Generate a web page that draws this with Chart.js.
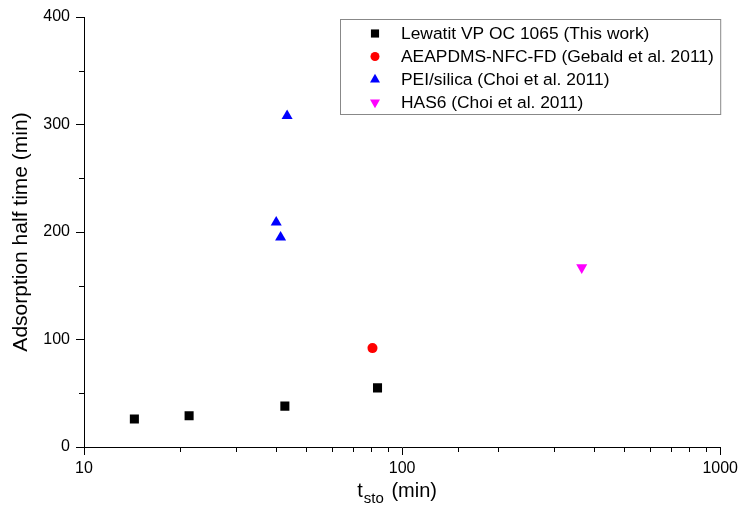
<!DOCTYPE html>
<html>
<head>
<meta charset="utf-8">
<script src="https://cdn.jsdelivr.net/npm/chart.js@4/dist/chart.umd.min.js"></script>
<style>
  html, body { margin: 0; padding: 0; background: #fff; }
  #wrap { width: 742px; height: 506px; }
</style>
</head>
<body>
<div id="wrap"><canvas id="halfTimeChart" width="742" height="506"></canvas></div>
<script>
const FONT = "Arial, 'Liberation Sans', sans-serif";

// storage time t_sto (min) vs adsorption half time (min)
const lewatitX = [14.4, 21.4, 42.8, 83.7];
const lewatitY = [26, 29, 38, 55];
const aeapdmsX = [80.7];
const aeapdmsY = [92];
const peiX = [43.5, 40.2, 41.5];
const peiY = [308, 209, 195];
const has6X = [367];
const has6Y = [167];

const seriesLabels = [
    'Lewatit VP OC 1065 (This work)',
    'AEAPDMS-NFC-FD (Gebald et al. 2011)',
    'PEI/silica (Choi et al. 2011)',
    'HAS6 (Choi et al. 2011)'
];
const xTickLabels = [10, 100, 1000];
const yTickLabels = [0, 100, 200, 300, 400];
const yMinorTicks = [50, 150, 250, 350];

const toPoints = function(xs, ys) {
    let pts = [];
    for (let i = 0; i < xs.length; i++) pts.push({x: xs[i], y: ys[i]});
    return pts;
};

const datasets = [
    { label: seriesLabels[0], data: toPoints(lewatitX, lewatitY), pointStyle: 'rect', pointRadius: 6.4, backgroundColor: '#000000', borderColor: '#000000' },
    { label: seriesLabels[1], data: toPoints(aeapdmsX, aeapdmsY), pointStyle: 'circle', pointRadius: 5, backgroundColor: '#ff0000', borderColor: '#ff0000' },
    { label: seriesLabels[2], data: toPoints(peiX, peiY), pointStyle: 'triangle', pointRadius: 6.4, backgroundColor: '#0000ff', borderColor: '#0000ff' },
    { label: seriesLabels[3], data: toPoints(has6X, has6Y), pointStyle: 'triangle', rotation: 180, pointRadius: 6.4, backgroundColor: '#ff00ff', borderColor: '#ff00ff' }
];
datasets.forEach(function(d) { d.pointBorderWidth = 0; d.pointHoverRadius = d.pointRadius; });

// short minor ticks + subscript x title + boxed legend
const decorPlugin = {
    id: 'decor',
    afterDraw: function(chart) {
        const ctx = chart.ctx;
        const xs = chart.scales.x, ys = chart.scales.y;
        const area = chart.chartArea;
        ctx.save();
        ctx.strokeStyle = '#000';
        ctx.lineWidth = 1;
        ctx.beginPath();
        xs.ticks.forEach(function(t) {
            if (xTickLabels.indexOf(t.value) >= 0) return;
            const px = Math.round(xs.getPixelForValue(t.value)) + 0.5;
            ctx.moveTo(px, area.bottom);
            ctx.lineTo(px, area.bottom + 5);
        });
        yMinorTicks.forEach(function(v) {
            const py = Math.round(ys.getPixelForValue(v)) + 0.5;
            ctx.moveTo(area.left, py);
            ctx.lineTo(area.left - 5, py);
        });
        ctx.stroke();

        // x title: t_sto (min)
        const big = '20px ' + FONT, small = '15px ' + FONT;
        ctx.fillStyle = '#000';
        ctx.textBaseline = 'alphabetic';
        ctx.textAlign = 'left';
        ctx.font = big;
        const wT = ctx.measureText('t').width;
        const wRest = ctx.measureText(' (min)').width;
        ctx.font = small;
        const wSub = ctx.measureText('sto').width + 3;
        let x0 = (area.left + area.right) / 2 - (wT + wSub + wRest) / 2 - 5;
        const base = 497;
        ctx.font = big;
        ctx.fillText('t', x0, base);
        ctx.font = small;
        ctx.fillText('sto', x0 + wT + 1, base + 6);
        ctx.font = big;
        ctx.fillText(' (min)', x0 + wT + wSub, base);

        // legend box
        const boxL = 340.5, boxT = 19.5, boxR = area.right + 0.5, rowH = 23;
        const n = chart.data.datasets.length;
        ctx.strokeStyle = '#888';
        ctx.strokeRect(boxL, boxT, boxR - boxL, 14 + rowH * (n - 1) + 12);
        ctx.font = '17.4px ' + FONT;
        ctx.textBaseline = 'middle';
        chart.data.datasets.forEach(function(d, i) {
            const cy = boxT + 14 + i * rowH;
            ctx.fillStyle = d.backgroundColor;
            if (Chart.helpers && Chart.helpers.drawPoint) {
                Chart.helpers.drawPoint(ctx, {pointStyle: d.pointStyle, rotation: d.rotation || 0, radius: d.pointRadius * 0.9, borderWidth: 0}, 375, cy);
            }
            ctx.fillStyle = '#000';
            ctx.fillText(d.label, 401, cy + 1);
        });
        ctx.restore();
    }
};

const ctxChart = document.getElementById('halfTimeChart');
window.chartObject = new Chart(ctxChart, {
    type: 'scatter',
    data: { datasets: datasets },
    options: {
        responsive: false,
        animation: false,
        devicePixelRatio: 1,
        layout: { padding: { top: 17, right: 20, left: 0, bottom: 0 } },
        plugins: {
            legend: { display: false },
            tooltip: { enabled: false }
        },
        scales: {
            x: {
                type: 'logarithmic',
                min: 10,
                max: 1000,
                afterFit: function(s) { s.height = 59; },
                border: { display: true, color: '#000', width: 1 },
                grid: {
                    drawOnChartArea: false,
                    drawTicks: true,
                    tickLength: 8,
                    tickColor: function(c) { return xTickLabels.indexOf(c.tick.value) >= 0 ? '#000' : 'rgba(0,0,0,0)'; }
                },
                ticks: {
                    autoSkip: false,
                    maxRotation: 0,
                    padding: 4,
                    color: '#000',
                    font: { family: FONT, size: 16 },
                    callback: function(v) { return xTickLabels.indexOf(v) >= 0 ? String(v) : ''; }
                }
            },
            y: {
                min: 0,
                max: 400,
                afterFit: function(s) { s.width = 84; },
                border: { display: true, color: '#000', width: 1 },
                grid: { drawOnChartArea: false, drawTicks: true, tickLength: 8, tickColor: '#000' },
                ticks: {
                    stepSize: 100,
                    padding: 6,
                    color: '#000',
                    font: { family: FONT, size: 16 },
                    callback: function(v) { return yTickLabels.indexOf(v) >= 0 ? String(v) : ''; }
                },
                title: {
                    display: true,
                    text: 'Adsorption half time (min)',
                    color: '#000',
                    font: { family: FONT, size: 21 },
                    padding: { top: 9, bottom: 0 }
                }
            }
        }
    },
    plugins: [decorPlugin]
});
</script>
</body>
</html>
